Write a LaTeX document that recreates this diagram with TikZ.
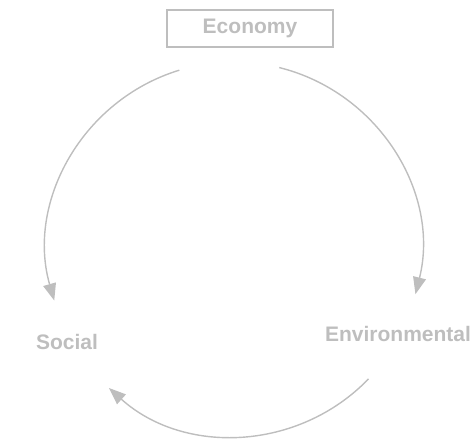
\documentclass[tikz,border=0pt]{standalone}
\usepackage{fontspec}
\setmainfont{Liberation Sans}
\usepackage{xcolor}
\usetikzlibrary{arrows.meta,positioning,calc}
\definecolor{cyclegray}{RGB}{190,190,190}

\begin{document}
\begin{tikzpicture}[x=1pt,y=1pt,
    label/.style={text=cyclegray,font=\fontsize{21}{24}\selectfont\bfseries},
    cycle/.style={draw=cyclegray,line width=1.4pt,-{Triangle[length=17pt,width=13pt]}}]
\useasboundingbox (0,0) rectangle (474,440);
    % Pillars
\node[rectangle,draw=cyclegray,line width=2pt,minimum width=166pt,minimum height=37pt,label] (economy) at (250,411.5) {Economy};
\node[label] (social) at (67,98) {Social};
\node[label] (environmental) at (398,106) {Environmental};
    % Cycle arcs
\coordinate (centre) at (234,191);
\coordinate (ecoleft) at ($(centre)+(107:187)$);
\coordinate (ecoright) at ($(centre)+(76:187)$);
\coordinate (envlow) at ($(centre)+(-44:187)$);
\draw[cycle] (ecoleft) arc[start angle=107,end angle=196,radius=187pt];
\draw[cycle] (ecoright) arc[start angle=76,end angle=-14,radius=187pt];
\draw[cycle] (envlow) arc[start angle=-44,end angle=-132,radius=187pt];
\end{tikzpicture}
\end{document}
